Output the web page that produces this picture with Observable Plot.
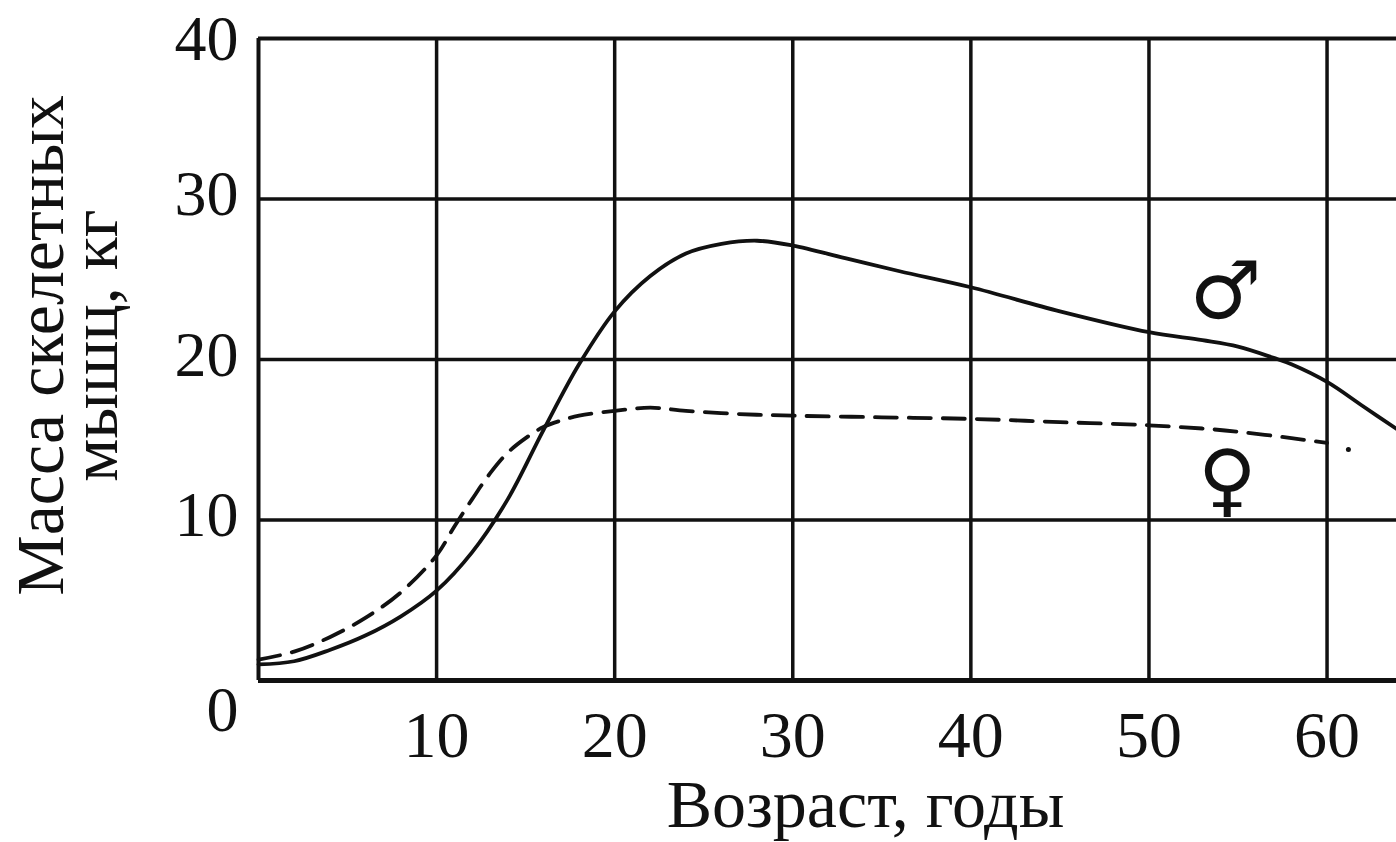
<!DOCTYPE html>
<html>
<head>
<meta charset="utf-8">
<script src="https://cdn.jsdelivr.net/npm/d3@7"></script>
<script src="https://cdn.jsdelivr.net/npm/@observablehq/plot@0.6"></script>
<style>
  body { margin: 0; background: #fff; }
  #chart svg { display: block; }
</style>
</head>
<body>
<div id="chart"></div>
<script>
// Male (solid) skeletal muscle mass, kg, by age
const maleAge  = [0, 2, 4, 6, 8, 10, 12, 14, 16, 18, 20, 22, 24, 26, 28, 30, 33, 36, 40, 45, 50, 53, 55, 57, 58, 60, 62, 64];
const maleMass = [1.0, 1.2, 1.9, 2.8, 4.0, 5.6, 8.0, 11.3, 15.6, 19.7, 23.0, 25.2, 26.6, 27.2, 27.4, 27.1, 26.3, 25.5, 24.5, 23.0, 21.7, 21.2, 20.8, 20.1, 19.7, 18.6, 17.1, 15.6];

// Female (dashed) skeletal muscle mass, kg, by age
const femaleAge  = [0, 2, 4, 6, 8, 10, 11, 12, 13, 14, 15, 16, 17, 18, 20, 22, 24, 27, 30, 35, 40, 45, 50, 53, 55, 58, 60];
const femaleMass = [1.3, 1.8, 2.7, 3.9, 5.5, 7.8, 9.6, 11.3, 12.9, 14.2, 15.1, 15.8, 16.2, 16.5, 16.8, 17.0, 16.8, 16.6, 16.5, 16.4, 16.3, 16.1, 15.9, 15.7, 15.5, 15.1, 14.8];

// trailing dot of the dashed curve
const femaleDotAge = [61.2];
const femaleDotMass = [14.4];

// sex symbols
const symbolText = ["\u2642", "\u2640"];
const symbolAge  = [54.3, 54.4];
const symbolMass = [24.2, 12.4];

const xTicks = [10, 20, 30, 40, 50, 60];
const yTicksLow = [10, 20, 30];
const yTicksTop = [40];
const gridY  = [10, 20, 30];
const originLabel = "0";
const xLabel = "Возраст, годы";
const yLabel = "Масса скелетных\nмышц, кг";

const male = maleAge.map((a, i) => ({age: a, mass: maleMass[i]}));
const female = femaleAge.map((a, i) => ({age: a, mass: femaleMass[i]}));
const femaleDot = femaleDotAge.map((a, i) => ({age: a, mass: femaleDotMass[i]}));
const symbols = symbolText.map((t, i) => ({t, age: symbolAge[i], mass: symbolMass[i]}));

const ink = "#111";
const serif = "'Liberation Serif', 'Times New Roman', serif";

const chart = Plot.plot({
  width: 1396,
  height: 842,
  marginLeft: 258,
  marginRight: 0,
  marginTop: 38,
  marginBottom: 162,
  x: {domain: [0, 63.9]},
  y: {domain: [0, 40]},
  style: {fontFamily: serif, background: "#fff", color: ink},
  marks: [
    Plot.ruleX(xTicks, {stroke: ink, strokeWidth: 3.5}),
    Plot.ruleY(gridY, {stroke: ink, strokeWidth: 3.5}),
    Plot.ruleY([0], {stroke: ink, strokeWidth: 5}),
    Plot.ruleY([40], {stroke: ink, strokeWidth: 4}),
    Plot.ruleX([0], {stroke: ink, strokeWidth: 4}),
    Plot.line(male, {x: "age", y: "mass", stroke: ink, strokeWidth: 3.8, curve: "catmull-rom"}),
    Plot.line(female, {x: "age", y: "mass", stroke: ink, strokeWidth: 3.8, strokeDasharray: "22,12", curve: "catmull-rom"}),
    Plot.dot(femaleDot, {x: "age", y: "mass", r: 2.5, fill: ink, stroke: null}),
    Plot.text(symbols, {x: "age", y: "mass", text: "t", fontSize: 80, fontFamily: "DejaVu Sans", fill: ink}),
    Plot.axisX({ticks: xTicks, tickSize: 0, tickPadding: 30, fontSize: 66, label: null, fill: ink}),
    Plot.axisY({ticks: yTicksLow, tickSize: 0, tickPadding: 20, fontSize: 64, label: null, dy: -4, fill: ink}),
    Plot.axisY({ticks: yTicksTop, tickSize: 0, tickPadding: 20, fontSize: 64, label: null, dy: 1, fill: ink}),
    Plot.text([originLabel], {x: 0, y: 0, text: d => d, fontSize: 64, textAnchor: "end", dx: -20, dy: 30, fill: ink}),
    Plot.text([xLabel], {frameAnchor: "bottom", text: d => d, fontSize: 68, dx: 38, dy: 146, fill: ink}),
    Plot.text([yLabel], {frameAnchor: "left", text: d => d, fontSize: 68, rotate: -90, textAnchor: "middle", lineHeight: 0.8, dx: -186, dy: -14, fill: ink})
  ]
});

document.getElementById("chart").appendChild(chart);
</script>
</body>
</html>
